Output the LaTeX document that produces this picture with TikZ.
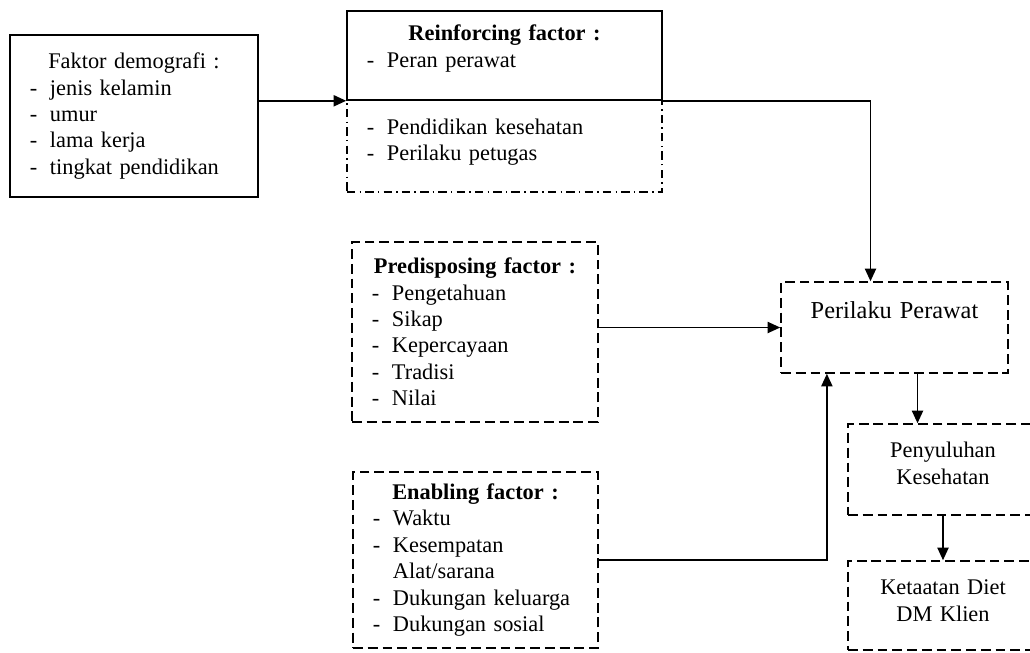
\documentclass[tikz,border=0pt]{standalone}
\usepackage{fontspec}
\setmainfont{Liberation Serif}
\usetikzlibrary{arrows.meta}
\setlength{\parindent}{0pt}
\newcommand{\drawsolid}{\node[draw,rectangle,inner xsep=0.5cm,align=left]}
\newcommand{\drawdash}{\node[draw,rectangle,dash pattern=on 7pt off 3.5pt,inner xsep=0.5cm,align=left]}
\newcommand{\drawdashdot}{\node[draw,rectangle,dash pattern=on 6pt off 3pt on 1pt off 3pt,inner xsep=0.5cm,align=left]}
\newcommand{\itm}{\makebox[0.5cm][l]{-}}
\newcommand{\ttl}[1]{{\centering #1\par}}
\newcommand{\ctr}[1]{\makebox[4.75cm]{#1}}
\newcommand{\padbot}[1]{\par\vskip #1\hrule height 0pt}

\begin{document}
\begin{tikzpicture}[x=0.025cm, y=-0.025cm, line width=1.1pt, >={Triangle[length=9pt,width=8pt]}, every node/.style={font=\fontsize{15.9}{18.8}\selectfont}]
\useasboundingbox (0,0) rectangle (1030,652);
%faktor-faktor
\drawsolid[text width=5.2cm, minimum height=4.05cm] (demo) at (134,116) {\ttl{Faktor demografi :}\itm jenis kelamin\\ \itm umur\\ \itm lama kerja\\ \itm tingkat pendidikan};
\drawdashdot[text width=6.875cm, minimum height=2.3cm] (reinBot) at (504.5,146) {\itm Pendidikan kesehatan\\ \itm Perilaku petugas\padbot{0.2cm}};
\drawsolid[text width=6.875cm, minimum height=2.225cm, fill=white] (reinTop) at (504.5,55.5) {\ttl{\textbf{Reinforcing factor :}}\itm Peran perawat\padbot{0.35cm}};
\drawdash[text width=5.15cm, minimum height=4.5cm] (predis) at (475,332) {\ttl{\textbf{Predisposing factor :}}\itm Pengetahuan\\ \itm Sikap\\ \itm Kepercayaan\\ \itm Tradisi\\ \itm Nilai};
\drawdash[text width=5.125cm, minimum height=4.4cm] (enab) at (475.5,560) {\ttl{\textbf{Enabling factor :}}\itm Waktu\\ \itm Kesempatan\\ \makebox[0.5cm]{}Alat/sarana\\ \itm Dukungan keluarga\\ \itm Dukungan sosial};
%perilaku dan hasil
\drawdash[align=center, inner xsep=0pt, text width=5.675cm, minimum height=2.275cm, font=\fontsize{17.3}{20}\selectfont] (perilaku) at (894.5,327.5) {Perilaku Perawat\padbot{0.875cm}};
\drawdash[inner xsep=0pt, text width=6.5cm, minimum height=2.275cm] (penyu) at (978,469.5) {\ctr{Penyuluhan}\\ \ctr{Kesehatan}\padbot{0.3cm}};
\drawdash[inner xsep=0pt, text width=6.5cm, minimum height=2.225cm] (keta) at (978,605.5) {\ctr{Ketaatan Diet}\\ \ctr{DM Klien}\padbot{0.25cm}};

\draw[->] (demo.east |- reinTop.south west) -- (reinTop.south west);
\draw[->] (reinTop.south east) -| ([xshift=-0.6cm]perilaku.north);
\draw[->] (predis.east |- perilaku.west) -- (perilaku.west);
\draw[->] (enab.east) -| ([xshift=-1.69cm]perilaku.south);
\draw[->] ([xshift=0.575cm]perilaku.south) -- ([xshift=0.575cm]perilaku.south |- penyu.north);
\draw[->] ([xshift=-0.875cm]penyu.south) -- ([xshift=-0.875cm]keta.north);
\end{tikzpicture}
\end{document}
